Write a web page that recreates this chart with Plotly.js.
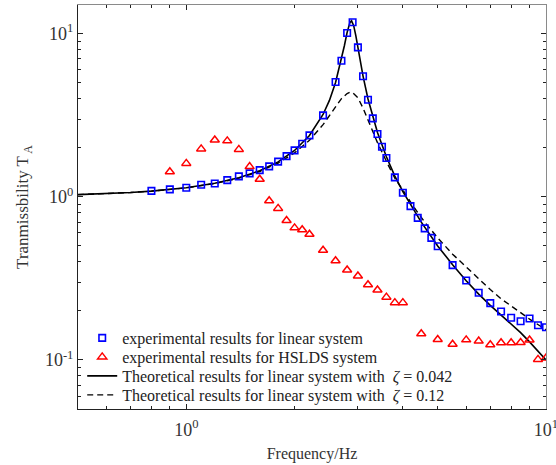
<!DOCTYPE html>
<html>
<head>
<meta charset="utf-8">
<script src="https://cdn.plot.ly/plotly-3.0.1.min.js"></script>
<style>html,body{margin:0;padding:0;background:#fff;}#chart{width:556px;height:465px;}</style>
</head>
<body>
<div id="chart"></div>
<script>
// Experimental results, linear system (blue squares)
const linFreq = [0.8,0.9,1.0,1.1,1.2,1.3,1.4,1.5,1.6,1.7,1.8,1.9,2.0,2.1,2.2,2.4,2.6,2.7,2.8,2.9,3.0,3.1,3.2,3.3,3.4,3.5,3.6,3.8,4.0,4.2,4.4,4.6,4.8,5.0,5.5,6.0,6.5,7.0,7.5,8.0,8.5,9.0,9.5,10];
const linT = [1.088,1.11,1.136,1.185,1.208,1.266,1.334,1.392,1.458,1.536,1.644,1.777,1.926,2.114,2.381,3.158,5.055,6.83,10.1,11.75,8.25,5.48,3.94,3.027,2.425,2.026,1.728,1.315,1.058,0.877,0.743,0.64,0.56,0.498,0.381,0.307,0.258,0.223,0.198,0.1815,0.1727,0.1795,0.163,0.1587];

// Experimental results, HSLDS system (red triangles)
const hsFreq = [0.9,1.0,1.1,1.2,1.3,1.4,1.5,1.6,1.7,1.8,1.9,2.0,2.1,2.2,2.4,2.6,2.8,3.0,3.2,3.4,3.6,3.8,4.0,4.5,5.0,5.5,6.0,6.5,7.0,7.5,8.0,8.5,9.0,9.5,10];
const hsT = [1.424,1.603,1.967,2.228,2.203,1.953,1.532,1.28,0.945,0.849,0.716,0.645,0.628,0.59,0.47,0.405,0.356,0.327,0.289,0.268,0.2425,0.2244,0.2244,0.1447,0.1335,0.1248,0.1327,0.1304,0.1240,0.1275,0.1275,0.128,0.1325,0.1007,0.1028];

// Theoretical curve, zeta = 0.042 (solid)
const th1Freq = [0.5,0.6,0.7,0.8,0.9,1.0,1.2,1.4,1.6,1.8,2.0,2.2,2.4,2.5,2.6,2.7,2.75,2.8,2.85,2.88,2.92,2.96,3.0,3.1,3.2,3.3,3.4,3.6,3.8,4.0,4.5,5.0,5.5,6.0,6.5,7.0,7.5,8.0,8.5,9.0,9.5,10];
const th1T = [1.031,1.045,1.063,1.084,1.108,1.137,1.21,1.309,1.445,1.637,1.923,2.378,3.198,3.90,5.02,6.94,8.41,10.2,11.7,12.0,11.2,9.74,8.23,5.50,3.98,3.07,2.48,1.76,1.34,1.075,0.70,0.50,0.383,0.306,0.253,0.216,0.188,0.166,0.147,0.129,0.114,0.100];

// Theoretical curve, zeta = 0.12 (dashed)
const th2Freq = [0.5,0.6,0.7,0.8,0.9,1.0,1.2,1.4,1.6,1.8,2.0,2.2,2.4,2.5,2.6,2.7,2.8,2.85,2.9,3.0,3.1,3.2,3.3,3.4,3.6,3.8,4.0,4.3,4.6,5.0,5.5,6.0,6.5,7.0,7.5,8.0,8.5,9.0,9.5,10];
const th2T = [1.031,1.045,1.062,1.083,1.107,1.135,1.206,1.302,1.43,1.61,1.86,2.22,2.77,3.15,3.58,4.0,4.3,4.38,4.35,4.05,3.5,2.95,2.5,2.15,1.65,1.3,1.1,0.86,0.70,0.56,0.445,0.37,0.315,0.27,0.237,0.213,0.195,0.178,0.165,0.153];

// Axis ticks
const xTickVals = [1, 10];
const xTickText = ['10<sup>0</sup>', '10<sup>1</sup>'];
const xMinor = [0.6,0.7,0.8,0.9,2,3,4,5,6,7,8,9];
const yTickVals = [0.1, 1, 10];
const yTickText = ['10<sup>-1</sup>', '10<sup>0</sup>', '10<sup>1</sup>'];
const yMinor = [0.06,0.07,0.08,0.09,0.2,0.3,0.4,0.5,0.6,0.7,0.8,0.9,2,3,4,5,6,7,8,9];

const legendNames = [
  'experimental results for linear system',
  'experimental results for HSLDS system',
  'Theoretical results for linear system with  <i>ζ</i> = 0.042',
  'Theoretical results for linear system with  <i>ζ</i> = 0.12'
];

const FONT = 'Liberation Serif, Times New Roman, serif';
const XR = [Math.log10(0.5), 1];
const YR = [Math.log10(0.05), Math.log10(15)];

const traces = [
  {x: th1Freq, y: th1T, mode: 'lines', name: legendNames[2], legend: 'legend3',
   line: {color: '#000000', width: 1.6}},
  {x: th2Freq, y: th2T, mode: 'lines', name: legendNames[3], legend: 'legend4',
   line: {color: '#000000', width: 1.4, dash: '6px,4px'}},
  {x: linFreq, y: linT, mode: 'markers', name: legendNames[0], legend: 'legend',
   marker: {symbol: 'square-open', size: 6.5, color: '#0000ff', line: {width: 1.6, color: '#0000ff'}}},
  {x: hsFreq, y: hsT, mode: 'markers', name: legendNames[1], legend: 'legend2',
   marker: {symbol: 'triangle-up-open', size: 8, color: '#ff0000', line: {width: 1.5, color: '#ff0000'}}},
  // invisible carrier so the top/right box axes are drawn
  {x: linFreq, y: linT, xaxis: 'x2', yaxis: 'y2', mode: 'markers', showlegend: false,
   hoverinfo: 'skip', marker: {opacity: 0, size: 1}}
];

const tickCommon = {
  type: 'log', showgrid: false, zeroline: false,
  showline: true, linewidth: 1,
  ticks: 'inside', ticklen: 5, tickwidth: 1, tickcolor: '#222222'
};

function legendAt(yPaper) {
  return {
    x: 0.009, y: yPaper, xanchor: 'left', yanchor: 'middle',
    bgcolor: 'rgba(0,0,0,0)', borderwidth: 0,
    font: {family: FONT, size: 16, color: '#222222'},
    tracegroupgap: 0, itemwidth: 30
  };
}

const layout = {
  width: 556, height: 465,
  margin: {l: 78, r: 10, t: 5, b: 56},
  paper_bgcolor: '#ffffff', plot_bgcolor: '#ffffff',
  font: {family: FONT, color: '#222222'},
  xaxis: Object.assign({}, tickCommon, {
    range: XR, linecolor: '#222222',
    tickmode: 'array', tickvals: xTickVals, ticktext: xTickText,
    ticklabeloverflow: 'allow', ticklabelstandoff: 4,
    tickfont: {family: FONT, size: 18, color: '#333333'},
    minor: {tickmode: 'array', tickvals: xMinor, ticks: 'inside', ticklen: 3, tickcolor: '#222222', showgrid: false},
    title: {text: 'Frequency/Hz', font: {family: FONT, size: 16, color: '#333333'}, standoff: 9}
  }),
  yaxis: Object.assign({}, tickCommon, {
    range: YR, linecolor: '#222222',
    tickmode: 'array', tickvals: yTickVals, ticktext: yTickText,
    ticklabeloverflow: 'allow',
    tickfont: {family: FONT, size: 18, color: '#333333'},
    minor: {tickmode: 'array', tickvals: yMinor, ticks: 'inside', ticklen: 3, tickcolor: '#222222', showgrid: false},
    title: {text: 'Tranmissbility T<sub> A</sub>', font: {family: FONT, size: 17, color: '#333333'}, standoff: 11}
  }),
  xaxis2: Object.assign({}, tickCommon, {
    range: XR, overlaying: 'x', side: 'top', anchor: 'y2', linecolor: '#8a8a8a',
    tickmode: 'array', tickvals: xTickVals, showticklabels: false,
    minor: {tickmode: 'array', tickvals: xMinor, ticks: 'inside', ticklen: 3, tickcolor: '#222222', showgrid: false}
  }),
  yaxis2: Object.assign({}, tickCommon, {
    range: YR, overlaying: 'y', side: 'right', anchor: 'x2', linecolor: '#8a8a8a',
    tickmode: 'array', tickvals: yTickVals, showticklabels: false,
    minor: {tickmode: 'array', tickvals: yMinor, ticks: 'inside', ticklen: 3, tickcolor: '#222222', showgrid: false}
  }),
  showlegend: true,
  legend: legendAt(0.1757),
  legend2: legendAt(0.1287),
  legend3: legendAt(0.0817),
  legend4: legendAt(0.0347)
};

Plotly.newPlot('chart', traces, layout, {displayModeBar: false, staticPlot: true});
</script>
</body>
</html>
